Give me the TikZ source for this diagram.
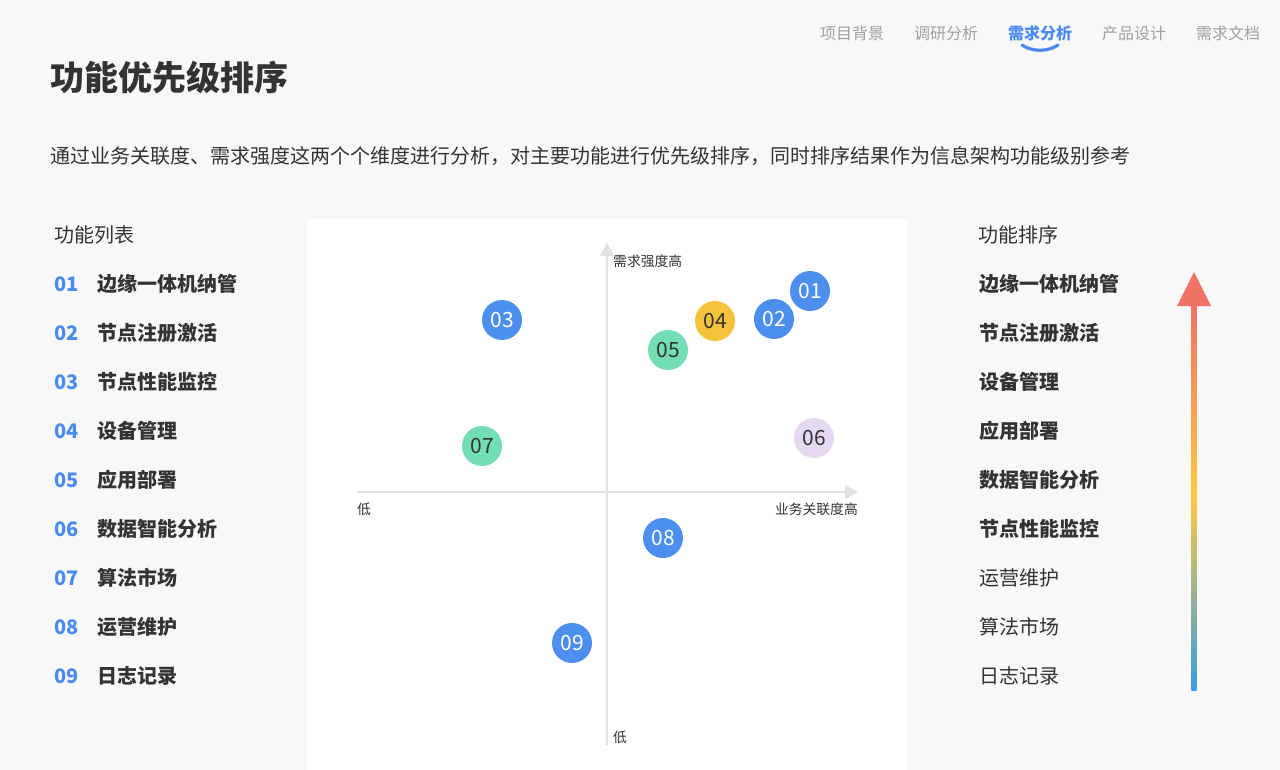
\documentclass[tikz,border=0pt]{standalone}
\usepackage{fontspec}
\setmainfont{Noto Sans CJK SC}
\usetikzlibrary{arrows.meta}
\definecolor{bg}{HTML}{F8F8F8}
\definecolor{ink}{HTML}{333333}
\definecolor{navgray}{HTML}{A0A0A0}
\definecolor{accent}{HTML}{4A8BEF}
\definecolor{dotblue}{HTML}{4D8FEE}
\definecolor{dotyellow}{HTML}{F5C33B}
\definecolor{dotgreen}{HTML}{73DDB5}
\definecolor{dotlav}{HTML}{E5D9F1}
\definecolor{axisgray}{HTML}{E2E2E2}
\definecolor{gradred}{HTML}{F07265}
\definecolor{gradyellow}{HTML}{FCC944}
\definecolor{gradblue}{HTML}{3A9DE2}
\tikzset{
  nav/.style={anchor=center, inner sep=0pt, font=\fontsize{16}{18}\selectfont, text=navgray},
  navon/.style={nav, text=accent, font=\fontsize{16}{18}\selectfont\bfseries},
  head/.style={anchor=west, inner sep=0pt, font=\fontsize{20}{22}\selectfont, text=ink},
  num/.style={anchor=west, inner sep=0pt, font=\fontsize{20}{22}\selectfont\bfseries, text=accent},
  item/.style={anchor=west, inner sep=0pt, font=\fontsize{20}{22}\selectfont\bfseries, text=ink},
  itemlight/.style={anchor=west, inner sep=0pt, font=\fontsize{20}{22}\selectfont, text=ink},
  axislbl/.style={inner sep=0pt, font=\fontsize{13.8}{15}\selectfont, text=ink},
  dot/.style={circle, minimum size=40pt, inner sep=0pt, font=\fontsize{21}{23}\selectfont},
  axisline/.style={draw=axisgray, line width=2pt, -{Triangle[length=13pt,width=14pt]}},
}
\begin{document}
\begin{tikzpicture}[x=1pt,y=-1pt]
\useasboundingbox (0,0) rectangle (1280,770);
\fill[bg] (0,0) rectangle (1280,770);
\fill[white] (307,219) rectangle (907,770);

% navigation
\node[nav] (n1) at (852,33) {项目背景};
\node[nav] (n2) at (946,33) {调研分析};
\node[navon] (n3) at (1040,33) {需求分析};
\node[nav] (n4) at (1134,33) {产品设计};
\node[nav] (n5) at (1228,33) {需求文档};
\draw[accent, line width=3.2pt, line cap=round] (1022,45) .. controls (1032,52) and (1048,52) .. (1058,45);

% title
\node[anchor=west, inner sep=0pt, font=\fontsize{34}{36}\selectfont\bfseries, text=ink] (title) at (50,77) {功能优先级排序};
\node[anchor=west, inner sep=0pt, font=\fontsize{20}{22}\selectfont, text=ink] (desc) at (50,156) {通过业务关联度、需求强度这两个个维度进行分析，对主要功能进行优先级排序，同时排序结果作为信息架构功能级别参考};

% left list
\node[head] (lh) at (54,235) {功能列表};
\foreach \n/\t [count=\i from 0] in {01/边缘一体机纳管,02/节点注册激活,03/节点性能监控,04/设备管理,05/应用部署,06/数据智能分析,07/算法市场,08/运营维护,09/日志记录}{
  \node[num] (ln\n) at (54,284+49*\i) {\n};
  \node[item] (lt\n) at (97,284+49*\i) {\t};
}

% right list
\node[head] (rh) at (978,235) {功能排序};
\foreach \t [count=\i from 0] in {边缘一体机纳管,节点注册激活,设备管理,应用部署,数据智能分析,节点性能监控}{
  \node[item] (rt\i) at (979,284+49*\i) {\t};
}
\foreach \t [count=\i from 6] in {运营维护,算法市场,日志记录}{
  \node[itemlight] (rt\i) at (979,284+49*\i) {\t};
}

% gradient arrow
\shade[top color=gradred, bottom color=gradblue, middle color=gradyellow] (1191.5,304) rectangle (1196.5,690);
\fill[gradred] (1194,272) -- (1211,306) -- (1177,306) -- cycle;

% axes
\coordinate (xl) at (357,492);
\coordinate (xr) at (858,492);
\coordinate (yb) at (607,745);
\coordinate (yt) at (607,243);
\draw[axisline] (xl) -- (xr);
\draw[axisline] (yb) -- (yt);
\node[axislbl, anchor=west] (ytl) at (613,261) {需求强度高};
\node[axislbl, anchor=west] (xll) at (357,509) {低};
\node[axislbl, anchor=east] (xrl) at (858,509) {业务关联度高};
\node[axislbl, anchor=west] (ybl) at (613,737) {低};

% dots
\node[dot, fill=dotblue, text=white] (d01) at (810,291) {01};
\node[dot, fill=dotblue, text=white] (d02) at (774,319) {02};
\node[dot, fill=dotblue, text=white] (d03) at (502,320) {03};
\node[dot, fill=dotyellow, text=ink] (d04) at (715,321) {04};
\node[dot, fill=dotgreen, text=ink] (d05) at (668,350) {05};
\node[dot, fill=dotlav, text=ink] (d06) at (814,438) {06};
\node[dot, fill=dotgreen, text=ink] (d07) at (482,446) {07};
\node[dot, fill=dotblue, text=white] (d08) at (663,538) {08};
\node[dot, fill=dotblue, text=white] (d09) at (572,643) {09};
\end{tikzpicture}
\end{document}
